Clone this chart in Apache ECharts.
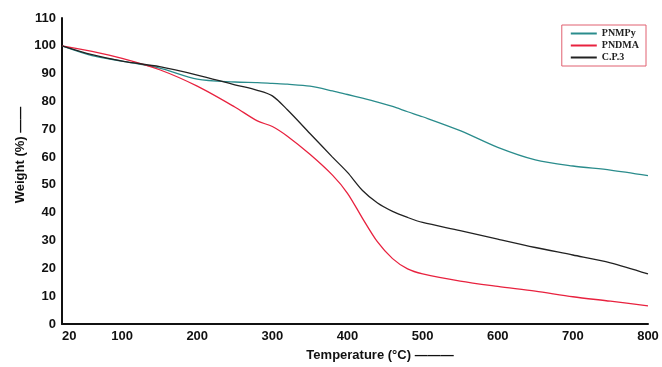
<!DOCTYPE html>
<html><head><meta charset="utf-8">
<script src="https://cdn.jsdelivr.net/npm/echarts@6/dist/echarts.min.js"></script>
<style>html,body{margin:0;padding:0;background:#fff}#c{width:662px;height:367px}</style>
</head><body><div id="c"></div>
<script>
const temps = [20, 60, 100, 150, 200, 250, 280, 300, 320, 350, 380, 400, 420, 440, 460, 480, 500, 550, 600, 650, 700, 750, 800];
const pnmpy = [100, 96.5, 94.5, 92, 88, 87, 86.8, 86.5, 86.2, 85.5, 83.8, 82.5, 81.2, 79.8, 78.2, 76.3, 74.5, 69.5, 63.5, 59, 56.8, 55.3, 53.3];
const pndma = [100, 98, 95.5, 91.4, 85.5, 78, 73, 71, 67.5, 61, 53.5, 47, 38, 29.5, 23.5, 19.8, 18, 15.4, 13.5, 11.8, 9.8, 8.2, 6.5];
const cp3 = [100, 96.8, 94.5, 92.5, 89.5, 86, 84, 82, 77, 68.5, 60, 54.5, 48, 43.5, 40.5, 38.3, 36.5, 33.6, 30.5, 27.5, 24.8, 22, 18];
const xTicks = [20, 100, 200, 300, 400, 500, 600, 700, 800];
const seriesNames = ['PNMPy', 'PNDMA', 'C.P.3'];
const colors = ['#2a8c8c', '#e8223f', '#222222'];

const pair = arr => temps.map((t, i) => [t, arr[i]]);
const chart = echarts.init(document.getElementById('c'));
const labelFont = {fontFamily: 'Liberation Sans, Arial', fontWeight: 'bold', fontSize: 13, color: '#111'};
chart.setOption({
  animation: false,
  grid: {left: 62, right: 14, top: 18, bottom: 40},
  legend: {
    right: 16, top: 25, orient: 'vertical',
    data: seriesNames,
    icon: 'rect', itemWidth: 26, itemHeight: 2, itemGap: 1,
    borderColor: '#e06070', borderWidth: 1, padding: [3, 7, 3, 9],
    textStyle: {fontFamily: 'Liberation Serif, Times New Roman', fontWeight: 'bold', fontSize: 10, lineHeight: 11, color: '#222'}
  },
  xAxis: {
    type: 'value', min: 20, max: 800,
    name: 'Temperature (°C) ———', nameLocation: 'middle', nameGap: 25,
    nameTextStyle: Object.assign({}, labelFont, {padding: [0, 0, 0, 50]}),
    axisLine: {lineStyle: {color: '#111', width: 2}},
    axisTick: {show: false},
    splitLine: {show: false},
    axisLabel: Object.assign({}, labelFont, {customValues: xTicks, margin: 6, alignMinLabel: 'left'})
  },
  yAxis: {
    type: 'value', min: 0, max: 110, interval: 10,
    name: 'Weight (%) ——', nameLocation: 'middle', nameGap: 35, nameRotate: 90,
    nameMoveOverlap: false,
    nameTextStyle: Object.assign({}, labelFont, {padding: [0, 0, 0, 32]}),
    axisLine: {show: true, lineStyle: {color: '#111', width: 2}},
    axisTick: {show: false},
    splitLine: {show: false},
    axisLabel: Object.assign({}, labelFont, {margin: 6})
  },
  series: [pnmpy, pndma, cp3].map((d, i) => ({
    name: seriesNames[i], type: 'line', data: pair(d), smooth: 0.3,
    showSymbol: false, lineStyle: {width: 1.3, color: colors[i]}, itemStyle: {color: colors[i]}
  }))
});
</script></body></html>
